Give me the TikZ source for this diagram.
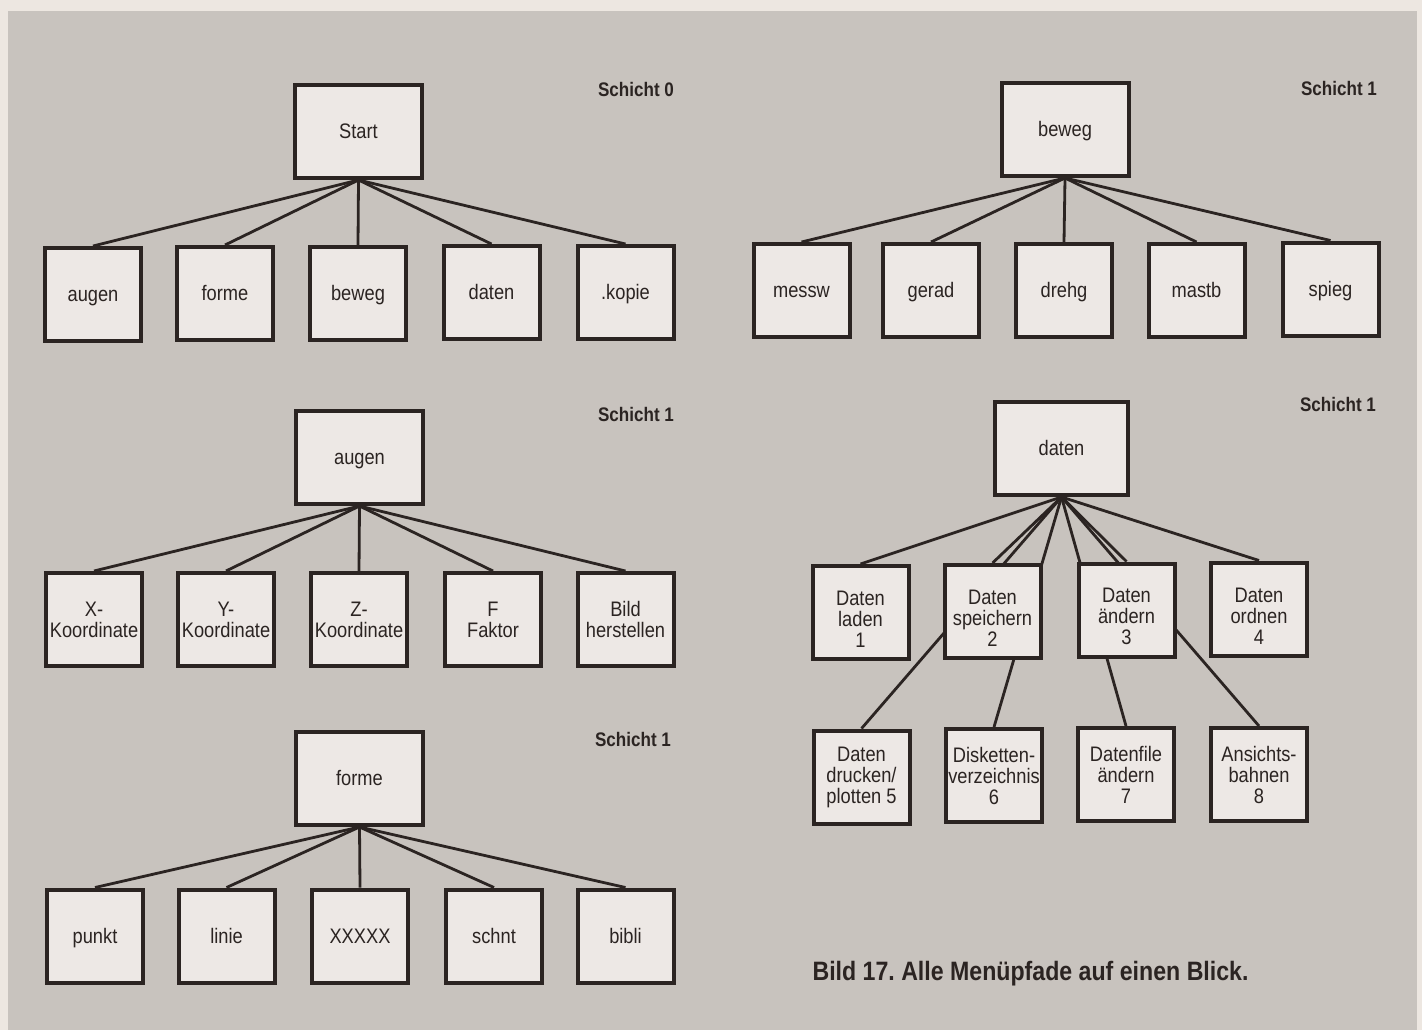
\documentclass[tikz,border=0pt]{standalone}
\usepackage{fontspec}
\setmainfont{Liberation Sans}[FakeStretch=0.87]
\usetikzlibrary{backgrounds}
\frenchspacing

\definecolor{paper}{HTML}{EDE7E1}
\definecolor{panel}{HTML}{C8C3BE}
\definecolor{boxfill}{HTML}{EDE8E5}
\definecolor{ink}{HTML}{2B2422}

\tikzset{
	menu/.style={draw=ink,line width=2pt,fill=boxfill,minimum width=48pt,minimum height=46.5pt,
		inner sep=1pt,align=center,text=ink,font=\fontsize{10.5}{10.5}\selectfont},
	oneline/.style={text height=7.6pt,text depth=0.3pt},
	headbox/.style={menu,oneline,minimum width=63.5pt},
	link/.style={draw=ink,line width=1.4pt},
	schicht/.style={text=ink,font=\fontsize{9.8}{11}\selectfont\bfseries}
}

\begin{document}
\begin{tikzpicture}[x=0.5pt,y=-0.5pt]
		\useasboundingbox (0,0) rectangle (1422,1030);
		\begin{scope}[on background layer]
			\fill[paper] (0,0) rectangle (1422,1030);
			\fill[panel] (8,11) rectangle (1417,1030);
		\end{scope}

		% Schicht 0
		\node[headbox] (start) at (358.5,131.5) {Start};
		\node[menu,oneline] (s-augen) at (93,294.5) {augen};
		\node[menu,oneline] (s-forme) at (225,293.5) {forme};
		\node[menu,oneline] (s-beweg) at (358,293.5) {beweg};
		\node[menu,oneline] (s-daten) at (491.5,292.5) {daten};
		\node[menu,oneline] (s-kopie) at (625.5,292.5) {.kopie};
		\node[schicht] (lbl-start) at (636,89) {Schicht 0};

		% Schicht 1: augen
		\node[headbox] (augen) at (359.5,457.5) {augen};
		\node[menu] (a-x) at (94,619.5) {X-\\Koordinate};
		\node[menu] (a-y) at (226,619.5) {Y-\\Koordinate};
		\node[menu] (a-z) at (359,619.5) {Z-\\Koordinate};
		\node[menu] (a-f) at (493,619.5) {F\\Faktor};
		\node[menu] (a-bild) at (625.5,619.5) {Bild\\herstellen};
		\node[schicht] (lbl-augen) at (636,414) {Schicht 1};

		% Schicht 1: forme
		\node[headbox] (forme) at (359.5,778.5) {forme};
		\node[menu,oneline] (f-punkt) at (95,936) {punkt};
		\node[menu,oneline] (f-linie) at (226.5,936) {linie};
		\node[menu,oneline] (f-xx) at (360,936) {XXXXX};
		\node[menu,oneline] (f-schnt) at (494,936) {schnt};
		\node[menu,oneline] (f-bibli) at (625.5,936) {bibli};
		\node[schicht] (lbl-forme) at (633,739) {Schicht 1};

		% Schicht 1: beweg
		\node[headbox] (beweg) at (1065,129.5) {beweg};
		\node[menu,oneline] (b-messw) at (801.5,290.5) {messw};
		\node[menu,oneline] (b-gerad) at (931,290.5) {gerad};
		\node[menu,oneline] (b-drehg) at (1064,290.5) {drehg};
		\node[menu,oneline] (b-mastb) at (1196.5,290.5) {mastb};
		\node[menu,oneline] (b-spieg) at (1330.5,289) {spieg};
		\node[schicht] (lbl-beweg) at (1339,88) {Schicht 1};

		% Schicht 1: daten
		\node[headbox,minimum width=66.5pt] (daten) at (1061.5,448.5) {daten};
		\node[menu] (d-1) at (860.5,612.5) {\rule{0pt}{14pt}Daten\\laden\\1};
		\node[menu] (d-2) at (992.5,611.5) {\rule{0pt}{14pt}Daten\\speichern\\2};
		\node[menu] (d-3) at (1126.5,610) {\rule{0pt}{14pt}Daten\\ändern\\3};
		\node[menu] (d-4) at (1259,609) {\rule{0pt}{14pt}Daten\\ordnen\\4};
		\node[menu] (d-5) at (861.5,777) {Daten\\drucken/\\plotten 5};
		\node[menu] (d-6) at (994,775.5) {Disketten-\\verzeichnis\\6};
		\node[menu] (d-7) at (1126,774.5) {Datenfile\\ändern\\7};
		\node[menu] (d-8) at (1259,774.5) {Ansichts-\\bahnen\\8};
		\node[schicht] (lbl-daten) at (1338,404) {Schicht 1};

		\node[schicht,font=\fontsize{13.3}{15}\selectfont\bfseries] (caption) at (1030.5,974)
			{Bild 17. Alle Menüpfade auf einen Blick.};

		% Verbindungen
		\begin{scope}[on background layer]
			\foreach \c in {s-augen,s-forme,s-beweg,s-daten,s-kopie}
				\draw[link] (start.south) -- (\c.north);
			\foreach \c in {a-x,a-y,a-z,a-f,a-bild}
				\draw[link] (augen.south) -- (\c.north);
			\foreach \c in {f-punkt,f-linie,f-xx,f-schnt,f-bibli}
				\draw[link] (forme.south) -- (\c.north);
			\foreach \c in {b-messw,b-gerad,b-drehg,b-mastb,b-spieg}
				\draw[link] (beweg.south) -- (\c.north);
			\foreach \c in {d-1,d-2,d-3,d-4,d-5,d-6,d-7,d-8}
				\draw[link] (daten.south) -- (\c.north);
		\end{scope}
\end{tikzpicture}
\end{document}
